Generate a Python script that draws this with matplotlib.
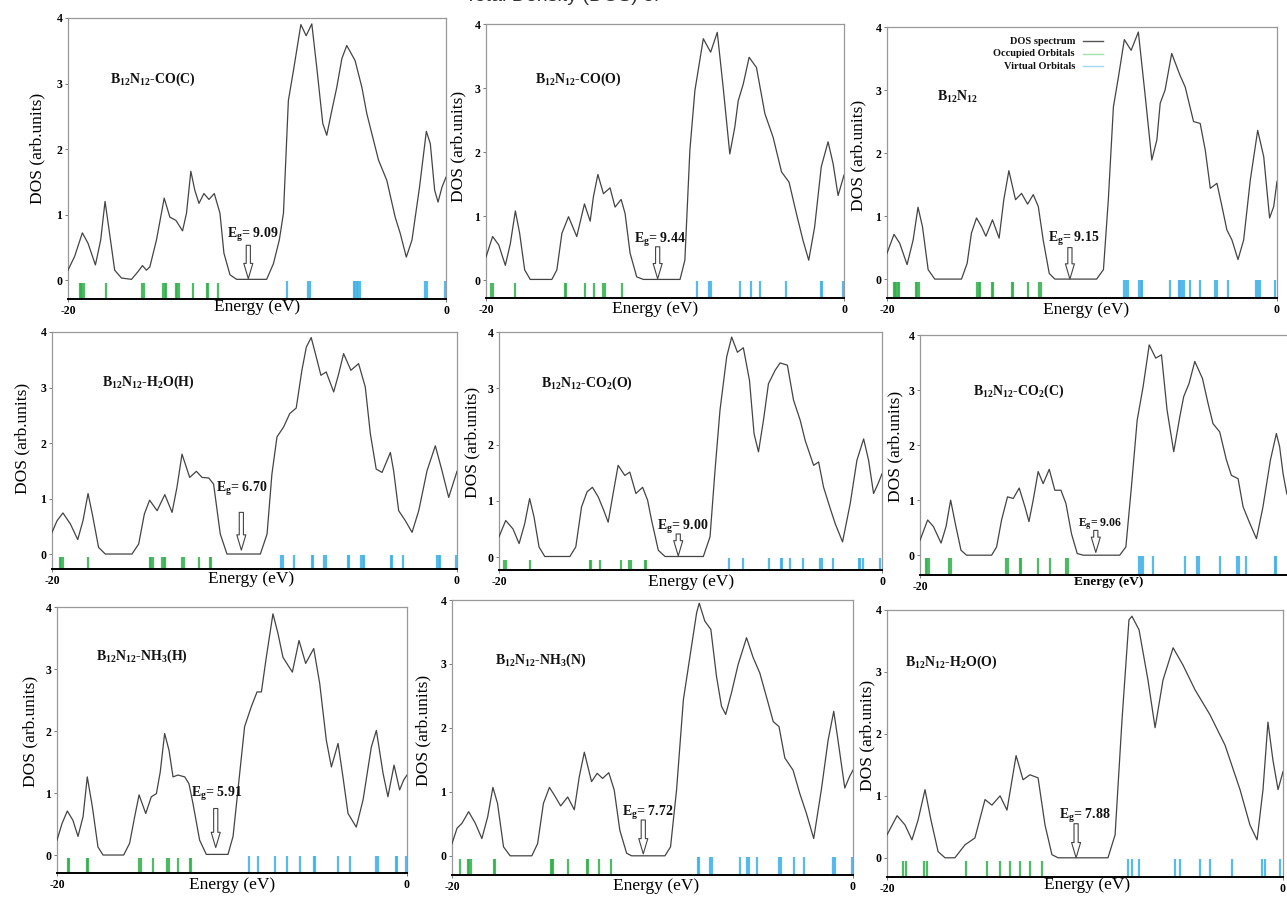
import matplotlib
matplotlib.use("Agg")
import matplotlib.pyplot as plt

plt.rcParams["font.family"] = ["Liberation Serif", "DejaVu Serif"]
plt.rcParams["mathtext.default"] = "regular"

W, H = 1287, 897

# ---------------- data ----------------
LABELS = [
    "B$_{12}$N$_{12}$-CO(C)", "B$_{12}$N$_{12}$-CO(O)", "B$_{12}$N$_{12}$",
    "B$_{12}$N$_{12}$-H$_2$O(H)", "B$_{12}$N$_{12}$-CO$_2$(O)", "B$_{12}$N$_{12}$-CO$_2$(C)",
    "B$_{12}$N$_{12}$-NH$_3$(H)", "B$_{12}$N$_{12}$-NH$_3$(N)", "B$_{12}$N$_{12}$-H$_2$O(O)",
]
GAPS = ["9.09", "9.44", "9.15", "6.70", "9.00", "9.06", "5.91", "7.72", "7.88"]

CO_C_E = [-20, -19.65, -19.24, -18.94, -18.55, -18.27, -18.04, -17.8, -17.53, -17.17, -16.64, -16.29, -16.06, -15.85, -15.67,
          -15.32, -14.91, -14.61, -14.29, -13.94, -13.73, -13.5, -13.29, -13.07, -12.81, -12.54, -12.26, -11.96, -11.75, -11.43,
          -11.08, -9.49, -9.13, -8.82, -8.6, -8.34, -8.07, -7.68, -7.4, -7.1, -6.84, -6.52, -6.31, -6.04, -5.78, -5.51, -5.25,
          -4.81, -4.45, -4.19, -3.92, -3.57, -3.13, -2.69, -2.42, -2.1, -1.8, -1.4, -1.04, -0.83, -0.6, -0.42, -0.21, 0]
CO_C_DOS = [0.15, 0.36, 0.72, 0.56, 0.23, 0.61, 1.2, 0.71, 0.15, 0.03, 0.01, 0.13, 0.22, 0.15, 0.2, 0.61, 1.25, 0.96, 0.91,
            0.75, 1.02, 1.66, 1.37, 1.17, 1.32, 1.23, 1.32, 1.02, 0.41, 0.08, 0.01, 0.01, 0.25, 0.61, 1.02, 2.74, 3.2, 3.9,
            3.73, 3.91, 3.25, 2.39, 2.21, 2.59, 2.94, 3.38, 3.58, 3.35, 2.94, 2.54, 2.23, 1.83, 1.52, 0.96, 0.71, 0.35, 0.61,
            1.42, 2.27, 2.08, 1.37, 1.19, 1.42, 1.57]
CO_C_OCC = [-19.38, -19.31, -19.24, -19.17, -17.97, -16.1, -15.99, -14.96, -14.89, -14.82, -14.29, -14.22, -14.15, -13.37,
            -12.67, -12.6, -12.08]
CO_C_VIR = [-8.39, -7.28, -7.19, -4.89, -4.8, -4.71, -4.63, -4.54, -1.1, -1.02, -0.04]

CO_O_E = [-20, -19.63, -19.29, -18.92, -18.64, -18.36, -18.12, -17.84, -17.53, -16.32, -16.04, -15.76, -15.39, -14.93, -14.5,
          -14.18, -14.0, -13.75, -13.44, -13.07, -12.79, -12.45, -12.23, -11.95, -11.58, -11.21, -9.16, -8.89, -8.61, -8.33,
          -7.86, -7.45, -7.08, -6.75, -6.38, -6.1, -5.91, -5.63, -5.3, -4.89, -4.42, -3.96, -3.49, -3.07, -2.66, -2.29, -1.97,
          -1.64, -1.27, -0.89, -0.61, -0.33, 0]
CO_O_DOS = [0.36, 0.68, 0.55, 0.23, 0.57, 1.08, 0.73, 0.16, 0.01, 0.01, 0.16, 0.73, 0.99, 0.68, 1.19, 0.92, 1.3, 1.65, 1.35,
            1.44, 1.14, 1.26, 1.04, 0.42, 0.05, 0.01, 0.01, 0.31, 2.03, 2.96, 3.77, 3.56, 3.87, 3.01, 1.97, 2.39, 2.8, 3.06,
            3.48, 3.32, 2.6, 2.23, 1.69, 1.53, 1.04, 0.62, 0.31, 0.83, 1.77, 2.16, 1.82, 1.32, 1.64]
CO_O_OCC = [-19.7, -19.61, -18.36, -15.61, -15.54, -14.46, -13.94, -13.44, -13.36, -12.42]
CO_O_VIR = [-8.23, -7.53, -7.43, -5.82, -5.17, -4.7, -3.25, -1.3, -1.21, -0.06]

BN_E = [-20, -19.64, -19.35, -18.97, -18.66, -18.41, -18.18, -17.89, -17.55, -16.18, -15.89, -15.67, -15.41, -15.15, -14.93,
        -14.59, -14.25, -14.01, -13.75, -13.41, -13.1, -12.79, -12.5, -12.24, -11.99, -11.68, -11.39, -9.25, -8.9, -8.65,
        -8.39, -8.13, -7.83, -7.48, -7.11, -6.77, -6.42, -6.16, -5.99, -5.74, -5.4, -4.97, -4.71, -4.28, -3.94, -3.68, -3.42,
        -3.08, -2.82, -2.57, -2.31, -2.0, -1.71, -1.37, -0.99, -0.68, -0.38, -0.17, 0]
BN_DOS = [0.41, 0.71, 0.57, 0.23, 0.62, 1.14, 0.83, 0.15, 0.0, 0.0, 0.25, 0.73, 0.97, 0.83, 0.68, 0.94, 0.65, 1.26, 1.72,
          1.26, 1.36, 1.19, 1.34, 1.15, 0.62, 0.09, 0.0, 0.0, 0.15, 1.26, 2.73, 3.21, 3.8, 3.63, 3.92, 2.94, 1.89, 2.21, 2.79,
          3.0, 3.58, 3.23, 3.05, 2.5, 2.47, 2.05, 1.44, 1.52, 1.15, 0.78, 0.62, 0.31, 0.62, 1.57, 2.36, 1.94, 0.97, 1.15, 1.55]
BN_OCC = [-19.66, -19.59, -19.52, -19.45, -19.38, -18.53, -18.44, -18.36, -15.38, -15.27, -15.21, -14.64, -14.55, -13.61,
          -13.54, -12.76, -12.19, -12.12]
BN_VIR = [-7.83, -7.74, -7.65, -7.09, -6.99, -6.92, -5.51, -5.05, -4.97, -4.88, -4.79, -4.45, -3.94, -3.17, -3.08, -2.53,
          -1.06, -0.98, -0.89, -0.09]

H2O_H_E = [-20, -19.75, -19.46, -19.09, -18.73, -18.47, -18.22, -18.01, -17.7, -17.37, -16.05, -15.72, -15.44, -15.18, -14.81,
           -14.43, -14.07, -13.83, -13.58, -13.2, -12.87, -12.59, -12.26, -12.02, -11.69, -11.36, -9.71, -9.38, -9.14, -8.89,
           -8.56, -8.26, -7.94, -7.66, -7.44, -7.2, -6.95, -6.72, -6.46, -6.09, -5.84, -5.6, -5.24, -4.86, -4.53, -4.28,
           -3.99, -3.7, -3.46, -3.29, -3.13, -2.88, -2.55, -2.22, -1.89, -1.48, -1.07, -0.74, -0.41, -0.2, 0]
H2O_H_DOS = [0.39, 0.6, 0.74, 0.54, 0.26, 0.6, 1.09, 0.72, 0.12, 0.0, 0.0, 0.18, 0.72, 0.97, 0.78, 1.07, 0.75, 1.2, 1.8,
             1.38, 1.49, 1.38, 1.37, 1.26, 0.36, 0.0, 0.0, 0.36, 1.44, 2.11, 2.29, 2.53, 2.63, 3.31, 3.73, 3.9, 3.55, 3.22,
             3.28, 2.92, 3.25, 3.61, 3.31, 3.43, 3.01, 2.17, 1.53, 1.47, 1.68, 1.83, 1.5, 0.78, 0.6, 0.39, 0.78, 1.5, 1.95,
             1.5, 1.02, 1.26, 1.49]
H2O_H_OCC = [-19.62, -19.54, -19.46, -18.22, -15.18, -15.09, -15.03, -14.55, -14.49, -14.42, -13.58, -13.5, -12.76, -12.21,
             -12.15]
H2O_H_VIR = [-8.69, -8.61, -8.07, -7.16, -7.11, -6.55, -6.47, -5.4, -5.35, -4.74, -4.66, -4.61, -3.26, -3.21, -2.68, -0.99,
             -0.9, -0.82, -0.05]

CO2_O_E = [-20, -19.65, -19.27, -18.95, -18.66, -18.4, -18.17, -17.91, -17.61, -16.3, -15.99, -15.69, -15.4, -15.12, -14.82,
           -14.53, -14.3, -14.04, -13.78, -13.43, -13.17, -12.85, -12.5, -12.24, -12.03, -11.68, -11.33, -9.33, -8.98, -8.72,
           -8.46, -8.11, -7.85, -7.55, -7.24, -6.92, -6.68, -6.45, -6.19, -5.93, -5.58, -5.32, -4.94, -4.62, -4.27, -4.01,
           -3.57, -3.31, -3.05, -2.7, -2.44, -2.06, -1.66, -1.31, -0.96, -0.7, -0.44, -0.21, 0]
CO2_O_DOS = [0.36, 0.65, 0.5, 0.24, 0.59, 1.04, 0.71, 0.18, 0.01, 0.01, 0.18, 0.89, 1.16, 1.24, 1.07, 0.83, 0.62, 1.13, 1.63,
             1.45, 1.51, 1.13, 1.24, 1.01, 0.65, 0.12, 0.01, 0.01, 0.36, 1.54, 2.61, 3.56, 3.91, 3.64, 3.72, 3.14, 2.19, 1.87,
             2.43, 3.08, 3.32, 3.45, 3.41, 2.79, 2.43, 2.07, 1.63, 1.69, 1.24, 0.86, 0.59, 0.27, 0.95, 1.72, 2.1, 1.72, 1.13,
             1.3, 1.48]
CO2_O_OCC = [-19.74, -19.65, -18.4, -15.26, -15.17, -14.73, -13.64, -13.2, -13.11, -12.38, -12.31]
CO2_O_VIR = [-7.99, -7.27, -5.88, -5.28, -5.21, -4.8, -4.1, -3.23, -3.14, -2.58, -1.22, -1.13, -0.99, -0.09]

CO2_C_E = [-20, -19.6, -19.3, -18.9, -18.64, -18.4, -18.16, -17.86, -17.57, -16.26, -16.0, -15.74, -15.43, -15.13, -14.82,
           -14.52, -14.31, -14.09, -13.83, -13.57, -13.25, -12.96, -12.64, -12.38, -12.09, -11.79, -11.48, -9.57, -9.25,
           -8.96, -8.66, -8.35, -8.03, -7.69, -7.39, -7.1, -6.75, -6.43, -6.23, -5.95, -5.65, -5.25, -4.96, -4.7, -4.35,
           -4.0, -3.74, -3.39, -3.13, -2.78, -2.43, -2.09, -1.7, -1.39, -1.22, -1.04, -0.85, -0.6]
CO2_C_DOS = [0.27, 0.64, 0.52, 0.22, 0.52, 1.0, 0.58, 0.09, 0.0, 0.0, 0.15, 0.64, 1.06, 1.03, 1.22, 0.88, 0.61, 1.0, 1.52,
             1.3, 1.56, 1.18, 1.18, 0.94, 0.39, 0.03, 0.0, 0.0, 0.15, 1.24, 2.45, 3.06, 3.82, 3.58, 3.64, 2.64, 1.88, 2.52,
             2.88, 3.12, 3.52, 3.21, 2.76, 2.39, 2.24, 1.73, 1.45, 1.39, 0.88, 0.58, 0.3, 0.88, 1.73, 2.21, 1.97, 1.48, 1.12,
             0.95]
CO2_C_OCC = [-19.69, -19.62, -19.55, -18.47, -18.4, -15.51, -15.43, -14.78, -14.71, -13.83, -13.22, -12.35, -12.26]
CO2_C_VIR = [-8.56, -8.47, -8.38, -7.83, -6.17, -5.53, -5.44, -4.35, -3.44, -3.36, -2.96, -1.48, -1.39]

NH3_H_E = [-20, -19.71, -19.41, -19.09, -18.8, -18.51, -18.27, -17.98, -17.66, -17.37, -16.19, -15.85, -15.56, -15.31, -14.93,
           -14.61, -14.32, -14.1, -13.85, -13.6, -13.37, -13.09, -12.7, -12.46, -12.23, -11.85, -11.47, -10.23, -9.94, -9.66,
           -9.28, -8.9, -8.57, -8.32, -8.04, -7.66, -7.37, -7.09, -6.8, -6.55, -6.17, -5.79, -5.33, -4.99, -4.61, -4.32,
           -3.94, -3.66, -3.37, -2.9, -2.51, -2.04, -1.75, -1.37, -1.09, -0.74, -0.42, -0.19, 0]
NH3_H_DOS = [0.24, 0.51, 0.71, 0.56, 0.3, 0.62, 1.26, 0.78, 0.13, 0.0, 0.0, 0.19, 0.62, 0.97, 0.67, 0.94, 0.99, 1.34, 1.96,
             1.69, 1.26, 1.29, 1.26, 1.15, 0.83, 0.24, 0.01, 0.01, 0.3, 1.05, 2.07, 2.39, 2.63, 2.63, 3.19, 3.89, 3.57, 3.19,
             3.06, 2.95, 3.46, 3.09, 3.33, 2.77, 1.85, 1.42, 1.8, 1.26, 0.67, 0.45, 0.89, 1.74, 2.01, 1.32, 0.94, 1.45, 1.05,
             1.21, 1.29]
NH3_H_OCC = [-19.37, -19.3, -18.29, -18.23, -15.31, -15.22, -14.51, -13.7, -13.62, -13.09, -12.38, -12.32]
NH3_H_VIR = [-9.03, -8.51, -7.56, -6.86, -6.1, -5.33, -5.26, -3.94, -3.28, -1.75, -1.66, -0.65, -0.55, -0.04]

NH3_N_E = [-20, -19.75, -19.5, -19.17, -18.84, -18.51, -18.22, -17.96, -17.73, -17.43, -17.1, -16.02, -15.73, -15.44, -15.14,
           -14.86, -14.58, -14.23, -13.9, -13.65, -13.4, -13.04, -12.76, -12.49, -12.18, -11.91, -11.63, -11.29, -11.04,
           -9.38, -9.1, -8.8, -8.46, -8.13, -7.8, -7.67, -7.39, -7.09, -6.81, -6.56, -6.35, -6.06, -5.73, -5.31, -4.98,
           -4.65, -4.32, -3.98, -3.69, -3.4, -2.99, -2.66, -2.32, -1.96, -1.58, -1.24, -0.96, -0.75, -0.41, -0.17, 0]
NH3_N_DOS = [0.19, 0.43, 0.51, 0.69, 0.51, 0.27, 0.61, 1.07, 0.82, 0.14, 0.0, 0.0, 0.19, 0.82, 1.07, 0.93, 0.78, 0.92, 0.72,
             1.24, 1.62, 1.16, 1.29, 1.21, 1.3, 1.03, 0.4, 0.04, 0.0, 0.0, 0.14, 1.03, 2.44, 3.12, 3.8, 3.95, 3.67, 3.54,
             2.81, 2.34, 2.21, 2.55, 2.99, 3.41, 3.1, 2.86, 2.49, 2.1, 2.02, 1.53, 1.34, 0.98, 0.66, 0.27, 1.03, 1.81, 2.26,
             1.81, 1.06, 1.24, 1.34]
NH3_N_OCC = [-19.62, -19.2, -19.14, -19.07, -17.93, -17.86, -15.07, -15.0, -14.94, -14.19, -13.28, -13.21, -12.65, -12.08]
NH3_N_VIR = [-7.75, -7.67, -7.14, -7.05, -5.64, -5.28, -5.19, -4.81, -3.68, -3.6, -2.94, -2.44, -1.0, -0.91, -0.03]

H2O_O_E = [-20, -19.49, -19.09, -18.74, -18.43, -18.08, -17.78, -17.42, -17.07, -16.57, -16.06, -15.56, -15.05, -14.7, -14.29,
           -13.94, -13.48, -13.13, -12.78, -12.37, -12.02, -11.67, -11.36, -8.84, -8.48, -8.13, -7.78, -7.63, -7.27, -6.82,
           -6.46, -6.06, -5.55, -5.05, -4.44, -3.69, -2.93, -2.17, -1.67, -1.31, -1.01, -0.76, -0.51, -0.25, 0]
H2O_O_DOS = [0.37, 0.68, 0.53, 0.29, 0.61, 1.1, 0.61, 0.1, 0.0, 0.0, 0.21, 0.32, 0.94, 0.85, 1.0, 0.77, 1.65, 1.26, 1.34,
             1.29, 0.53, 0.05, 0.0, 0.0, 0.37, 2.23, 3.84, 3.9, 3.68, 2.87, 2.1, 2.87, 3.39, 3.11, 2.71, 2.31, 1.82, 1.1,
             0.53, 0.29, 1.1, 2.19, 1.58, 1.1, 1.39]
H2O_O_OCC = [-19.19, -19.04, -18.13, -17.98, -16.0, -14.95, -14.29, -13.79, -13.28, -12.78, -12.17]
H2O_O_VIR = [-7.83, -7.63, -7.27, -5.45, -5.2, -4.19, -3.69, -2.58, -1.06, -0.91, -0.15]

SERIES = [
    (CO_C_E, CO_C_DOS, CO_C_OCC, CO_C_VIR),
    (CO_O_E, CO_O_DOS, CO_O_OCC, CO_O_VIR),
    (BN_E, BN_DOS, BN_OCC, BN_VIR),
    (H2O_H_E, H2O_H_DOS, H2O_H_OCC, H2O_H_VIR),
    (CO2_O_E, CO2_O_DOS, CO2_O_OCC, CO2_O_VIR),
    (CO2_C_E, CO2_C_DOS, CO2_C_OCC, CO2_C_VIR),
    (NH3_H_E, NH3_H_DOS, NH3_H_OCC, NH3_H_VIR),
    (NH3_N_E, NH3_N_DOS, NH3_N_OCC, NH3_N_VIR),
    (H2O_O_E, H2O_O_DOS, H2O_O_OCC, H2O_O_VIR),
]

# ---------------- layout / style ----------------
BOXES = [(68, 18, 446, 299, -0.29), (486, 24, 844, 298, -0.28), (887, 27, 1277, 298, -0.30),
         (52, 332, 457, 569, -0.27), (499, 332, 882, 570, -0.23), (920, 335, 1303, 575, -0.36),
         (57, 607, 407, 873, -0.29), (452, 600, 853, 875, -0.30), (887, 610, 1283, 877, -0.31)]
NAME_POS = [(-17.79, 3.07), (-17.25, 3.13), (-17.46, 2.89), (-17.53, 3.09), (-17.79, 3.08),
            (-17.22, 2.97), (-17.75, 3.2), (-17.84, 3.05), (-19.1, 3.16)]
EG_POS = [(-10.2, 0.69), (-10.3, 0.62), (-10.43, 0.63), (-10.62, 1.18), (-10.38, 0.53),
          (-10.61, 0.56), (-10.9, 0.98), (-10.23, 0.67), (-10.0, 0.68)]
ARROWS = [(-10.46, 0.53, 0.02), (-10.41, 0.52, 0.02), (-10.62, 0.5, 0.0), (-10.65, 0.75, 0.07),
          (-10.64, 0.41, 0.02), (-10.82, 0.45, 0.05), (-10.93, 0.75, 0.12), (-10.46, 0.56, 0.03),
          (-10.45, 0.55, 0.0)]
YLAB = [(37, 148), (458, 146), (858, 155), (22, 438), (472, 442), (895, 446), (30, 731), (423, 730), (867, 735)]
XLAB = [(257, 299), (655, 301), (1086, 302), (251, 571), (691, 574), (1109, 576), (232, 877), (656, 878), (1087, 877)]

LINE_C = "#444444"
OCC_C = "#2fb04a"
VIR_C = "#3ab0e8"

fig = plt.figure(figsize=(W / 100, H / 100), dpi=100)

fig.text(562 / W, 1 - 1 / H, "Total Density (DOS) of", family="Liberation Sans", fontsize=14,
         ha="center", va="baseline", color="#333333")

for i, (E, D, OCC, VIR) in enumerate(SERIES):
    l, t, r, b, ybot = BOXES[i]
    ax = fig.add_axes([l / W, 1 - b / H, (r - l) / W, (b - t) / H])
    ax.set_xlim(-20, 0)
    ax.set_ylim(ybot, 4)
    ax.vlines(OCC, ybot, -0.05, colors=OCC_C, lw=1.6, alpha=0.85, zorder=2)
    ax.vlines(VIR, ybot, -0.02, colors=VIR_C, lw=1.6, alpha=0.85, zorder=2)
    ax.plot(E, D, color=LINE_C, lw=0.9, zorder=3)

    if i == 5:
        ax.set_xticks([-20])
        ax.set_xticklabels(["-20"])
    else:
        ax.set_xticks([-20, 0])
        ax.set_xticklabels(["-20", "0"])
    ax.set_yticks([0, 1, 2, 3, 4])
    ax.tick_params(labelsize=8.5, length=2, width=0.6, pad=2, color="#666666")
    for lab in ax.get_xticklabels() + ax.get_yticklabels():
        lab.set_fontweight("bold")
    for s in ("top", "right", "left"):
        ax.spines[s].set_color("#999999")
        ax.spines[s].set_linewidth(0.9)
    ax.spines["bottom"].set_color("black")
    ax.spines["bottom"].set_linewidth(1.4)

    ax.set_ylabel("DOS (arb.units)", fontsize=12.5, ha="center", va="center")
    ax.yaxis.set_label_coords(YLAB[i][0] / W, 1 - YLAB[i][1] / H, transform=fig.transFigure)
    if i == 5:
        ax.set_xlabel("Energy (eV)", fontsize=9.5, fontweight="bold", ha="center", va="top")
    else:
        ax.set_xlabel("Energy (eV)", fontsize=12.5, ha="center", va="top")
    ax.xaxis.set_label_coords(XLAB[i][0] / W, 1 - XLAB[i][1] / H, transform=fig.transFigure)

    ax.text(NAME_POS[i][0], NAME_POS[i][1], LABELS[i], fontsize=10, fontweight="bold",
            ha="left", va="center", color="#111111")
    ax.text(EG_POS[i][0], EG_POS[i][1], "E$_g$= " + GAPS[i], fontsize=10 if i != 5 else 8.5,
            fontweight="bold", ha="center", va="center", color="#111111")
    ax_x, y0, y1 = ARROWS[i]
    ax.annotate("", xy=(ax_x, y1), xytext=(ax_x, y0),
                arrowprops=dict(arrowstyle="simple,head_length=1.1,head_width=0.65,tail_width=0.3",
                                fc="white", ec="#444444", lw=0.8, shrinkA=0, shrinkB=0))

    if i == 2:
        entries = [("DOS spectrum", "#555555"), ("Occupied Orbitals", "#9ee3b0"), ("Virtual Orbitals", "#9ed8f2")]
        for k, (txt, col) in enumerate(entries):
            yy = 0.948 - k * 0.046
            ax.text(0.482, yy, txt, transform=ax.transAxes, fontsize=7.5, fontweight="bold",
                    ha="right", va="center", color="#111111")
            ax.plot([0.503, 0.554], [yy, yy], transform=ax.transAxes, color=col, lw=1.0)

fig.savefig("out.png", dpi=100)
